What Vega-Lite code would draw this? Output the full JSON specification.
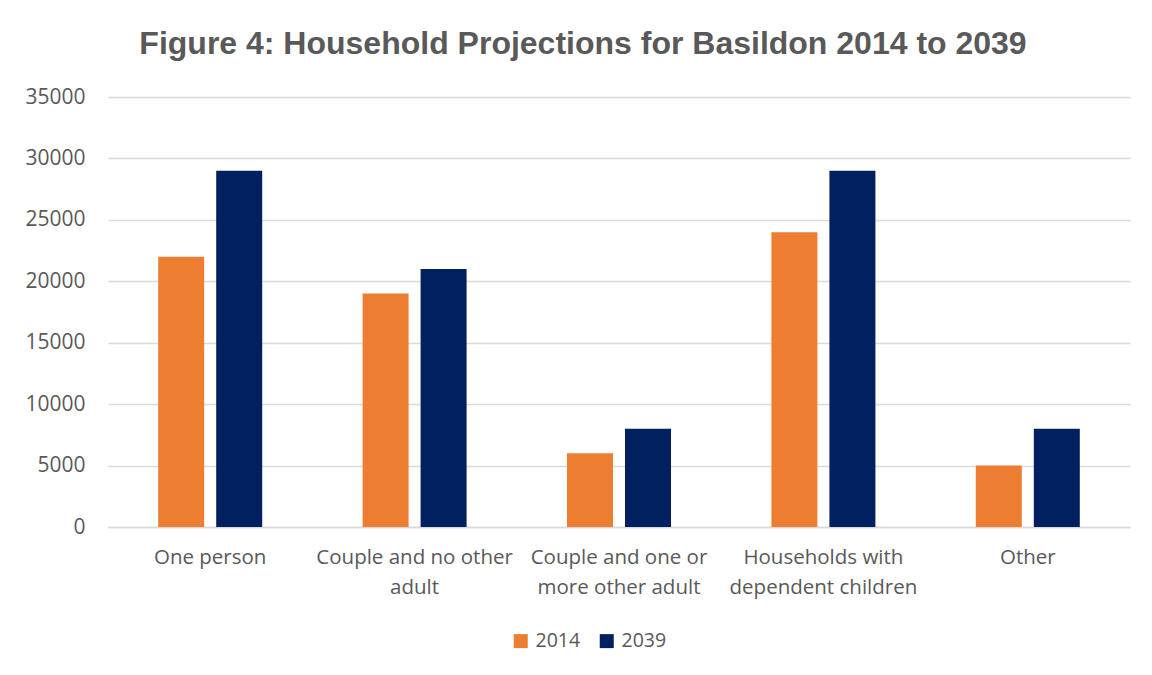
{
  "$schema": "https://vega.github.io/schema/vega-lite/v6.json",
  "width": 1022,
  "height": 430,
  "autosize": {"type": "none"},
  "padding": {"left": 108, "top": 97, "right": 22, "bottom": 148},
  "background": "white",
  "title": {
    "text": "Figure 4: Household Projections for Basildon 2014 to 2039",
    "font": "Liberation Sans",
    "fontSize": 32,
    "fontWeight": "bold",
    "color": "#595959",
    "anchor": "middle",
    "dx": -36,
    "baseline": "alphabetic",
    "offset": 0
  },
  "data": {
    "values": [
      {"category": "One person", "year": "2014", "households": 22000},
      {"category": "One person", "year": "2039", "households": 29000},
      {"category": "Couple and no other adult", "year": "2014", "households": 19000},
      {"category": "Couple and no other adult", "year": "2039", "households": 21000},
      {"category": "Couple and one or more other adult", "year": "2014", "households": 6000},
      {"category": "Couple and one or more other adult", "year": "2039", "households": 8000},
      {"category": "Households with dependent children", "year": "2014", "households": 24000},
      {"category": "Households with dependent children", "year": "2039", "households": 29000},
      {"category": "Other", "year": "2014", "households": 5000},
      {"category": "Other", "year": "2039", "households": 8000}
    ]
  },
  "mark": {"type": "bar"},
  "encoding": {
    "x": {
      "field": "category",
      "type": "nominal",
      "sort": null,
      "scale": {"paddingInner": 0, "paddingOuter": 0},
      "axis": {
        "title": null,
        "labelAngle": 0,
        "labelFont": "Open Sans",
        "labelFontSize": 20.5,
        "labelColor": "#595959",
        "labelPadding": 20,
        "labelLineHeight": 30,
        "labelLimit": 400,
        "ticks": false,
        "tickSize": 0,
        "domain": true,
        "domainColor": "#d9d9d9",
        "domainWidth": 1.5,
        "labelExpr": "datum.value == 'Couple and no other adult' ? ['Couple and no other', 'adult'] : datum.value == 'Couple and one or more other adult' ? ['Couple and one or', 'more other adult'] : datum.value == 'Households with dependent children' ? ['Households with', 'dependent children'] : datum.value"
      }
    },
    "xOffset": {
      "field": "year",
      "type": "nominal",
      "scale": {"paddingInner": 0.207, "paddingOuter": 0.8655}
    },
    "y": {
      "field": "households",
      "type": "quantitative",
      "scale": {"domain": [0, 35000], "nice": false},
      "axis": {
        "title": null,
        "values": [0, 5000, 10000, 15000, 20000, 25000, 30000, 35000],
        "format": "d",
        "labelFont": "Open Sans",
        "labelFontSize": 21,
        "labelColor": "#595959",
        "labelPadding": 23,
        "ticks": false,
        "tickSize": 0,
        "domain": false,
        "grid": true,
        "gridColor": "#d9d9d9",
        "gridWidth": 1.5
      }
    },
    "color": {
      "field": "year",
      "type": "nominal",
      "scale": {"domain": ["2014", "2039"], "range": ["#ED7D31", "#002060"]},
      "legend": {
        "title": null,
        "orient": "none",
        "direction": "horizontal",
        "legendX": 403,
        "legendY": 534,
        "symbolType": "square",
        "symbolSize": 196,
        "symbolStrokeWidth": 0,
        "labelFont": "Open Sans",
        "labelFontSize": 19.5,
        "labelColor": "#595959",
        "labelOffset": 5,
        "columnPadding": 16
      }
    }
  },
  "config": {
    "view": {"stroke": null}
  }
}
